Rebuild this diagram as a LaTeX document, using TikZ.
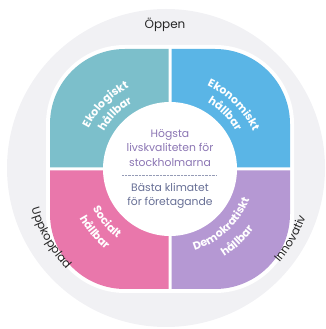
\documentclass[tikz,border=0pt]{standalone}
\usepackage{fontspec}
\setmainfont{Poppins}
\usetikzlibrary{decorations.text}

\definecolor{ringgray}{RGB}{241,241,244}
\definecolor{ekocolor}{RGB}{124,191,203}
\definecolor{econcolor}{RGB}{90,181,230}
\definecolor{soccolor}{RGB}{233,119,171}
\definecolor{democolor}{RGB}{181,152,211}
\definecolor{topcolor}{RGB}{140,118,180}
\definecolor{bottomcolor}{RGB}{104,112,150}

\begin{document}
\begin{tikzpicture}[x=1pt,y=1pt]
    \tikzstyle{ringtext}=[font=\fontsize{12}{14}\selectfont,text=black!85]
    \tikzstyle{centertext}=[align=center,font=\fontsize{10.8}{14.5}\selectfont,inner sep=0pt]
    \tikzstyle{quadtext}=[decorate,decoration={text along path,text align=center}]
    \tikzstyle{ringarc}=[decorate,decoration={text along path,text align=center}]

    \useasboundingbox (0,0) rectangle (325,329);
    \coordinate (C) at (170,160);

    % Ring
    \fill[ringgray] (166,161) circle (159);
    \fill[white,rounded corners=79] ([shift={(-124,-124)}]C) rectangle ([shift={(124,124)}]C);

    % Quadrants
    \begin{scope}[shift={(C)}]
        \fill[ekocolor] (-1.5,1.5) -- (-120,1.5) -- (-120,45)
            arc[start angle=180,end angle=90,radius=75] -- (-1.5,120) -- cycle;
        \fill[econcolor] (1.5,1.5) -- (120,1.5) -- (120,45)
            arc[start angle=0,end angle=90,radius=75] -- (1.5,120) -- cycle;
        \fill[soccolor] (-1.5,-1.5) -- (-120,-1.5) -- (-120,-45)
            arc[start angle=180,end angle=270,radius=75] -- (-1.5,-120) -- cycle;
        \fill[democolor] (1.5,-1.5) -- (120,-1.5) -- (120,-45)
            arc[start angle=0,end angle=-90,radius=75] -- (1.5,-120) -- cycle;
    \end{scope}
    \fill[white] (C) circle (67);

    % Quadrant labels
    \path[quadtext,shift={(C)},decoration={text={|\fontsize{11}{13}\bfseries\color{white}|Ekologiskt}}]
        (180:91) arc[start angle=180,end angle=90,radius=91];
    \path[quadtext,shift={(C)},decoration={text={|\fontsize{11}{13}\bfseries\color{white}|hållbar}}]
        (180:76) arc[start angle=180,end angle=90,radius=76];
    \path[quadtext,shift={(C)},decoration={text={|\fontsize{11}{13}\bfseries\color{white}|Ekonomiskt}}]
        (90:91) arc[start angle=90,end angle=0,radius=91];
    \path[quadtext,shift={(C)},decoration={text={|\fontsize{11}{13}\bfseries\color{white}|hållbar}}]
        (90:76) arc[start angle=90,end angle=0,radius=76];
    \path[quadtext,shift={(C)},decoration={text={|\fontsize{11}{13}\bfseries\color{white}|Socialt}}]
        (175:87) arc[start angle=175,end angle=265,radius=87];
    \path[quadtext,shift={(C)},decoration={text={|\fontsize{11}{13}\bfseries\color{white}|hållbar}}]
        (175:103) arc[start angle=175,end angle=265,radius=103];
    \path[quadtext,shift={(C)},decoration={text={|\fontsize{11}{13}\bfseries\color{white}|Demokratiskt}}]
        (268:85) arc[start angle=268,end angle=358,radius=85];
    \path[quadtext,shift={(C)},decoration={text={|\fontsize{11}{13}\bfseries\color{white}|hållbar}}]
        (268:103) arc[start angle=268,end angle=358,radius=103];

    % Ring labels
    \node[ringtext] (oppen) at (165,304) {Öppen};
    \path[ringarc,shift={(C)},decoration={text={|\fontsize{11.5}{13}\selectfont\color{black!85}|Uppkopplad}}]
        (165:144) arc[start angle=165,end angle=255,radius=144];
    \path[ringarc,shift={(C)},decoration={text={|\fontsize{11.5}{13}\selectfont\color{black!85}|Innovativ}}]
        (285:144) arc[start angle=285,end angle=375,radius=144];

    % Center
    \node[centertext,text=topcolor] (goal) at (170,181) {Högsta\\livskvaliteten för\\stockholmarna};
    \node[centertext,text=bottomcolor] (climate) at (170,133) {Bästa klimatet\\för företagande};
    \coordinate (divl) at (122,154);
    \coordinate (divr) at (217,154);
    \draw[bottomcolor!70,line width=0.8pt,dash pattern=on 1pt off 0.4pt] (divl) -- (divr);
\end{tikzpicture}
\end{document}
